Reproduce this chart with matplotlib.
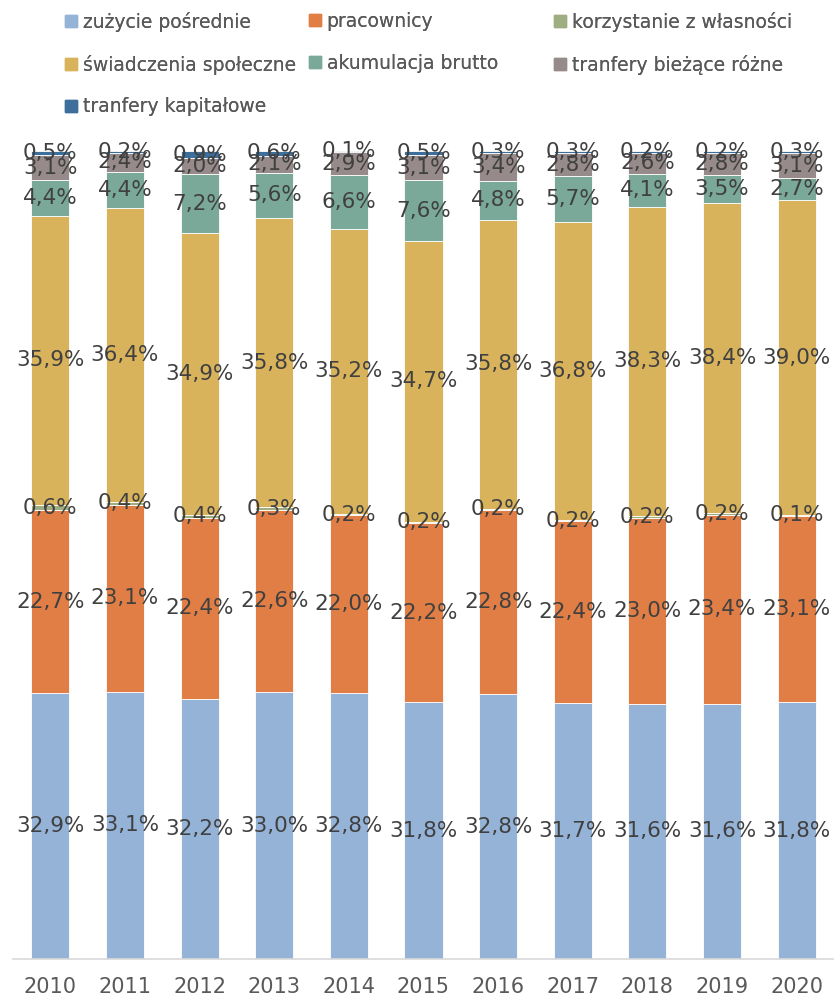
import numpy as np
import matplotlib
matplotlib.use('Agg')
import matplotlib.pyplot as plt
from matplotlib.lines import Line2D

# lata i struktura (%)
lata = ['2010', '2011', '2012', '2013', '2014', '2015', '2016', '2017', '2018', '2019', '2020']
serie = ['zużycie pośrednie', 'pracownicy', 'korzystanie z własności',
         'świadczenia społeczne', 'akumulacja brutto', 'tranfery bieżące różne',
         'tranfery kapitałowe']

zuzycie = [32.9, 33.1, 32.2, 33.0, 32.8, 31.8, 32.8, 31.7, 31.6, 31.6, 31.8]
pracownicy = [22.7, 23.1, 22.4, 22.6, 22.0, 22.2, 22.8, 22.4, 23.0, 23.4, 23.1]
wlasnosc = [0.6, 0.4, 0.4, 0.3, 0.2, 0.2, 0.2, 0.2, 0.2, 0.2, 0.1]
swiadczenia = [35.9, 36.4, 34.9, 35.8, 35.2, 34.7, 35.8, 36.8, 38.3, 38.4, 39.0]
akumulacja = [4.4, 4.4, 7.2, 5.6, 6.6, 7.6, 4.8, 5.7, 4.1, 3.5, 2.7]
biezace = [3.1, 2.4, 2.0, 2.1, 2.9, 3.1, 3.4, 2.8, 2.6, 2.8, 3.1]
kapitalowe = [0.5, 0.2, 0.9, 0.6, 0.1, 0.5, 0.3, 0.3, 0.2, 0.2, 0.3]

kolory = ['#95b3d7', '#e07e45', '#9fae80', '#d9b35c', '#7aa899', '#968b8a', '#3d6f9d']

dane = np.array([zuzycie, pracownicy, wlasnosc, swiadczenia, akumulacja, biezace, kapitalowe])
udzial = dane / dane.sum(axis=0) * 100  # wykres 100%

fig = plt.figure(figsize=(8.34, 9.97), dpi=100)
ax = fig.add_axes([13/834, 38/997, 821/834, 808/997])

x = np.arange(len(lata))
dol = np.zeros(len(lata))
uchwyty = []
for i in range(len(serie)):
    ax.bar(x, udzial[i], 0.51, bottom=dol, color=kolory[i], edgecolor='white', linewidth=0.6)
    for j in range(len(lata)):
        ax.text(x[j], dol[j] + udzial[i][j] / 2, ('%.1f%%' % dane[i][j]).replace('.', ','),
                ha='center', va='center', fontsize=15.5, color='#404040')
    dol += udzial[i]
    uchwyty.append(Line2D([], [], marker='s', linestyle='none', markersize=9,
                          markerfacecolor=kolory[i], markeredgecolor=kolory[i]))

ax.set_xlim(-0.5, len(lata) - 0.5)
ax.set_ylim(0, 100)
ax.set_yticks([])
ax.set_xticks(x)
ax.set_xticklabels(lata, fontsize=15, color='#595959')
ax.tick_params(axis='x', length=0, pad=13)
for s in ['top', 'right', 'left']:
    ax.spines[s].set_visible(False)
ax.spines['bottom'].set_color('#d9d9d9')
ax.spines['bottom'].set_linewidth(1.2)

# legenda w trzech kolumnach, wierszami
kolumny = [[0, 3, 6], [1, 4], [2, 5]]
pozycje_x = [62/834, 306/834, 551/834]
for k, idx in enumerate(kolumny):
    leg = fig.legend([uchwyty[i] for i in idx], [serie[i] for i in idx],
                     loc='upper left', bbox_to_anchor=(pozycje_x[k], 1 - 8/997),
                     frameon=False, fontsize=13.5, labelcolor='#595959',
                     handlelength=0.6, handletextpad=0.3, labelspacing=1.22,
                     borderaxespad=0, borderpad=0.2)
    fig.add_artist(leg)

fig.savefig('out.png', dpi=100)
